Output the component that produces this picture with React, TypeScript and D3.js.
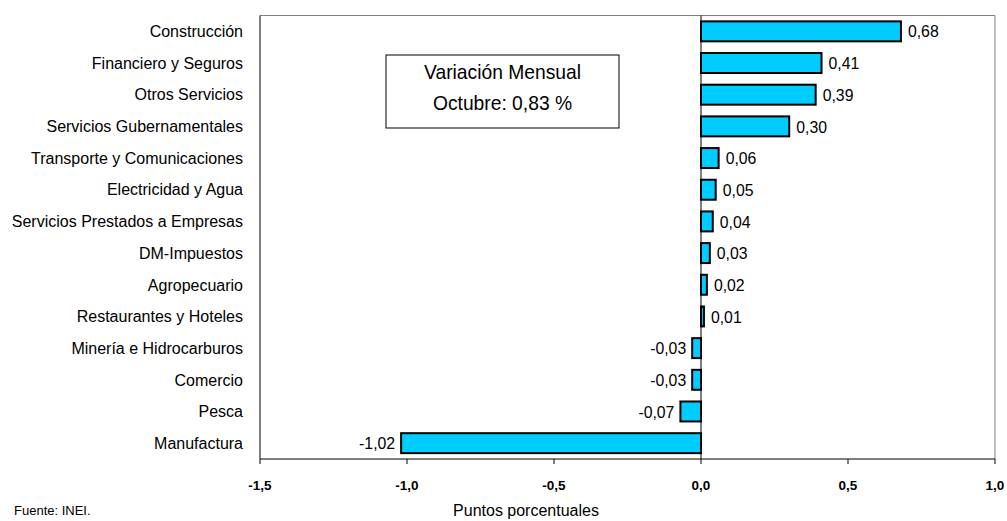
import React from "react";
import * as d3 from "d3";

const categories = [
  "Construcción",
  "Financiero y Seguros",
  "Otros Servicios",
  "Servicios Gubernamentales",
  "Transporte y Comunicaciones",
  "Electricidad y Agua",
  "Servicios Prestados a Empresas",
  "DM-Impuestos",
  "Agropecuario",
  "Restaurantes y Hoteles",
  "Minería e Hidrocarburos",
  "Comercio",
  "Pesca",
  "Manufactura",
];
const values = [0.68, 0.41, 0.39, 0.3, 0.06, 0.05, 0.04, 0.03, 0.02, 0.01, -0.03, -0.03, -0.07, -1.02];
const xTicks = [-1.5, -1.0, -0.5, 0.0, 0.5, 1.0];
const boxLines = ["Variación Mensual", "Octubre: 0,83 %"];

const W = 1007;
const H = 521;
const SANS = "'Liberation Sans', Arial, sans-serif";

function NText(props: {
  x: number;
  y: number;
  size: number;
  sx: number;
  anchor?: "start" | "middle" | "end";
  dy?: string;
  children: React.ReactNode;
}) {
  const { x, y, size, sx, anchor = "start", dy, children } = props;
  return (
    <text
      transform={`translate(${x},${y}) scale(${sx},1)`}
      dy={dy}
      textAnchor={anchor}
      fontFamily={SANS}
      fontSize={size}
      fill="#000"
    >
      {children}
    </text>
  );
}

export default function App() {
  const left = 260, right = 995, top = 15.5, bottom = 459;
  const x = d3.scaleLinear().domain([-1.5, 1.0]).range([left, right]);
  const y = d3.scaleBand<string>().domain(categories).range([top, bottom]).paddingInner(0.37).paddingOuter(0.185);
  const fmt = (v: number, d: number) => v.toFixed(d).replace(".", ",");
  const x0 = x(0);
  return (
    <svg width={W} height={H} style={{ position: "absolute", left: 0, top: 0, background: "#fff" }}>
      <rect x={0} y={0} width={W} height={H} fill="#fff" />
      {/* frame */}
      <line x1={left} y1={top} x2={right} y2={top} stroke="#808080" strokeWidth={1} />
      <line x1={right} y1={top} x2={right} y2={bottom} stroke="#808080" strokeWidth={1} />
      {/* annotation box */}
      <rect x={386} y={55} width={233} height={73} fill="#fff" stroke="#000" strokeWidth={1} />
      {boxLines.map((t, i) => (
        <NText key={t} x={502.5} y={79 + i * 31} size={20.5} sx={0.94} anchor="middle">
          {t}
        </NText>
      ))}
      {/* bars */}
      {categories.map((c, i) => {
        const v = values[i];
        const yy = y(c)!;
        const bw = y.bandwidth();
        const xa = Math.min(x(v), x0);
        const w = Math.abs(x(v) - x0);
        return (
          <g key={c}>
            <rect x={xa} y={yy} width={w} height={bw} fill="#00CCFF" stroke="#000" strokeWidth={2} />
            <NText
              x={v >= 0 ? x(v) + 7 : x(v) - 6}
              y={yy + bw / 2}
              dy="0.36em"
              size={17}
              sx={0.93}
              anchor={v >= 0 ? "start" : "end"}
            >
              {fmt(v, 2)}
            </NText>
            <NText x={243} y={yy + bw / 2} dy="0.36em" size={16} sx={1.0} anchor="end">
              {c}
            </NText>
          </g>
        );
      })}
      {/* zero line */}
      <line x1={x0} y1={top} x2={x0} y2={bottom} stroke="#000" strokeWidth={1} />
      {/* axes */}
      <line x1={left} y1={top} x2={left} y2={bottom} stroke="#000" strokeWidth={1} />
      <line x1={left} y1={bottom} x2={right} y2={bottom} stroke="#000" strokeWidth={1} />
      {xTicks.map((t) => (
        <g key={t}>
          <line x1={x(t)} y1={bottom} x2={x(t)} y2={bottom + 5} stroke="#000" strokeWidth={1} />
          <text x={x(t)} y={490} textAnchor="middle" fontFamily={SANS} fontWeight="bold" fontSize={13.5} fill="#000">
            {fmt(t, 1)}
          </text>
        </g>
      ))}
      <NText x={526} y={516} size={16} sx={1.0} anchor="middle">
        Puntos porcentuales
      </NText>
      <text x={14} y={515} fontFamily={SANS} fontSize={13} fill="#000">
        Fuente: INEI.
      </text>
    </svg>
  );
}
